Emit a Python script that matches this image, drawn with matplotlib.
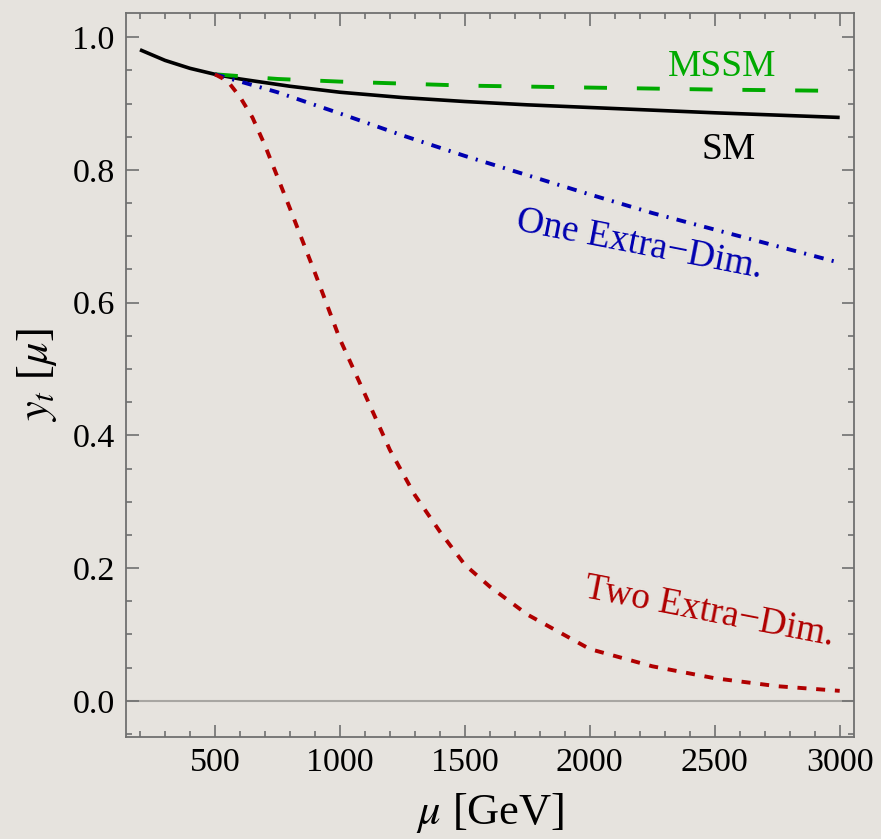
import numpy as np
import matplotlib
matplotlib.use('Agg')
import matplotlib.pyplot as plt
from matplotlib.ticker import MultipleLocator

plt.rcParams['font.family'] = ['Liberation Serif', 'DejaVu Serif']
plt.rcParams['mathtext.fontset'] = 'stix'
plt.rcParams['lines.scale_dashes'] = False

# values
mu_sm = [200, 300, 400, 500, 600, 800, 1000, 1250, 1500, 1750, 2000, 2500, 3000]
yt_sm = [0.981, 0.965, 0.953, 0.944, 0.937, 0.926, 0.917, 0.909, 0.903, 0.898, 0.894, 0.886, 0.879]

mu_mssm = [500, 750, 1000, 1250, 1500, 2000, 2500, 3000]
yt_mssm = [0.944, 0.937, 0.933, 0.930, 0.927, 0.924, 0.921, 0.919]

mu_one = [500, 750, 1000, 1250, 1500, 1750, 2000, 2250, 2500, 2750, 3000]
yt_one = [0.944, 0.917, 0.885, 0.852, 0.821, 0.792, 0.763, 0.735, 0.710, 0.685, 0.660]

mu_two = [500, 550, 600, 650, 700, 800, 900, 1000, 1100, 1200, 1300, 1400, 1500,
          1600, 1750, 2000, 2250, 2500, 2750, 3000]
yt_two = [0.944, 0.934, 0.910, 0.879, 0.837, 0.742, 0.645, 0.545, 0.462, 0.378, 0.310,
          0.255, 0.205, 0.172, 0.130, 0.078, 0.052, 0.034, 0.022, 0.015]

bg = '#e6e3de'
fig = plt.figure(figsize=(8.81, 8.39), dpi=100, facecolor=bg)
ax = fig.add_axes([0.143, 0.122, 0.826, 0.863])
ax.set_facecolor(bg)

ax.axhline(0, color='#a8a6a2', lw=1.5, zorder=1)

ax.plot(mu_sm, yt_sm, color='black', lw=2.6, solid_capstyle='butt')
ax.plot(mu_mssm, yt_mssm, color='#00aa00', lw=2.8, dashes=(16.5, 21.5))
ax.plot(mu_one, yt_one, color='#0000b0', lw=2.8, dashes=(7.0, 6.0, 1.5, 6.0))
ax.plot(mu_two, yt_two, color='#b00000', lw=2.8, dashes=(6.5, 7.0))

ax.text(2530, 0.956, 'MSSM', color='#00aa00', fontsize=27, ha='center', va='center')
ax.text(2555, 0.830, 'SM', color='black', fontsize=27, ha='center', va='center')
ax.text(2200, 0.687, 'One Extra\u2212Dim.', color='#0000b0', fontsize=27,
        ha='center', va='center', rotation=-11, rotation_mode='anchor')
ax.text(2480, 0.134, 'Two Extra\u2212Dim.', color='#b00000', fontsize=27,
        ha='center', va='center', rotation=-11, rotation_mode='anchor')

ax.set_xlim(144, 3056)
ax.set_ylim(-0.054, 1.037)
ax.xaxis.set_major_locator(MultipleLocator(500))
ax.xaxis.set_minor_locator(MultipleLocator(100))
ax.yaxis.set_major_locator(MultipleLocator(0.2))
ax.yaxis.set_minor_locator(MultipleLocator(0.05))
ax.yaxis.set_major_formatter(matplotlib.ticker.FormatStrFormatter('%.1f'))

ax.tick_params(which='both', direction='in', top=True, right=True, color='#707070',
               width=1.2, labelsize=24.5, pad=8)
ax.tick_params(which='major', length=9)
ax.tick_params(which='minor', length=4.5)
ax.tick_params(axis='x', which='both', labeltop=False)
ax.tick_params(axis='y', which='both', labelright=False)
for s in ax.spines.values():
    s.set_color('#707070')
    s.set_linewidth(1.3)

ax.set_xlabel(r'$\mu$ [GeV]', fontsize=32, labelpad=9)
ax.set_ylabel(r'$y_t$ [$\mu$]', fontsize=32, labelpad=10)

fig.savefig('out.png', dpi=100, facecolor=bg)
